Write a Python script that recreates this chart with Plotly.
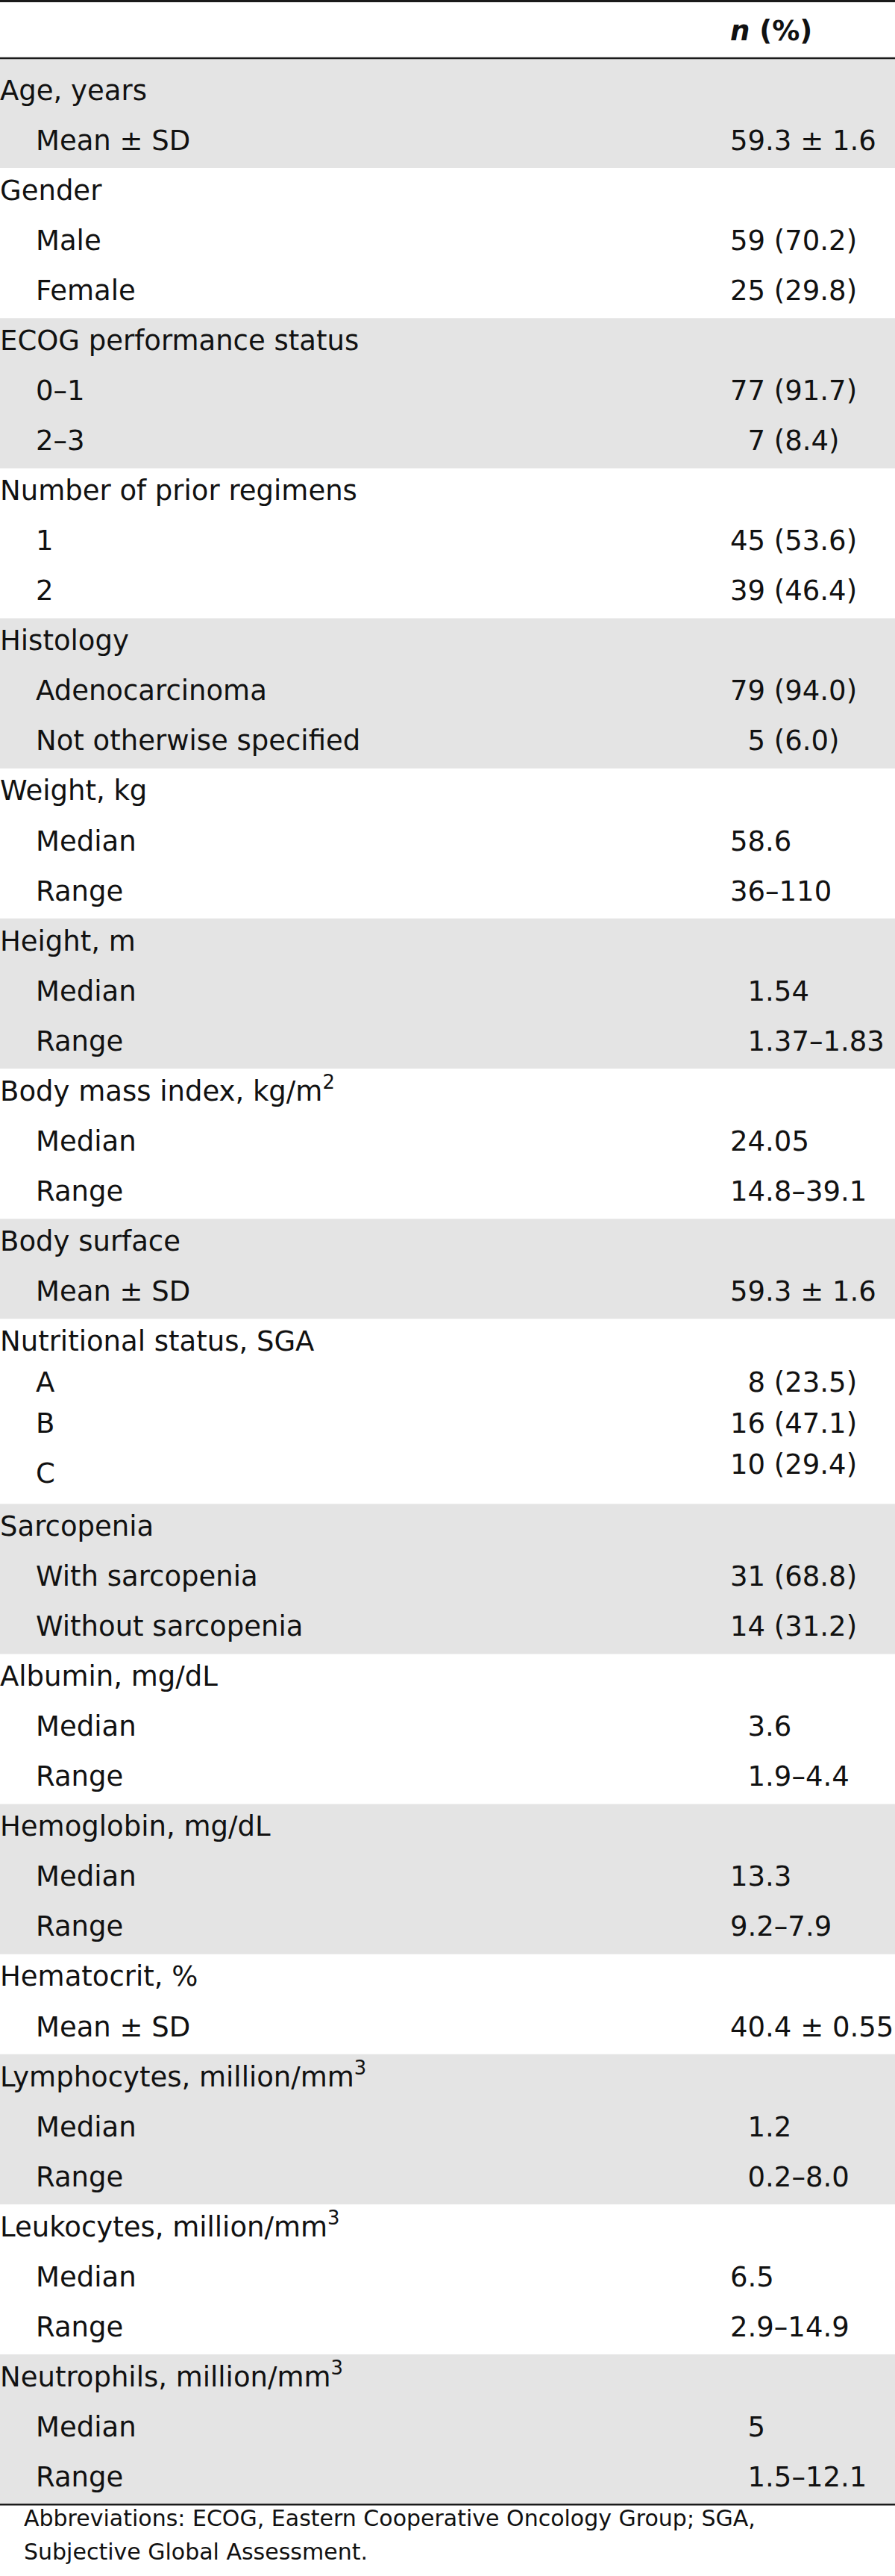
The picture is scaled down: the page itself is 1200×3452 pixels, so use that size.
import plotly.graph_objects as go

# ---------------- data ----------------
header_value = "<b><i>n</i> (%)</b>"

group_labels = [
    "Age, years",
    "Gender",
    "ECOG performance status",
    "Number of prior regimens",
    "Histology",
    "Weight, kg",
    "Height, m",
    "Body mass index, kg/m<sup>2</sup>",
    "Body surface",
    "Nutritional status, SGA",
    "Sarcopenia",
    "Albumin, mg/dL",
    "Hemoglobin, mg/dL",
    "Hematocrit, %",
    "Lymphocytes, million/mm<sup>3</sup>",
    "Leukocytes, million/mm<sup>3</sup>",
    "Neutrophils, million/mm<sup>3</sup>",
]

sub_labels = [
    ["Mean ± SD"],
    ["Male", "Female"],
    ["0–1", "2–3"],
    ["1", "2"],
    ["Adenocarcinoma", "Not otherwise specified"],
    ["Median", "Range"],
    ["Median", "Range"],
    ["Median", "Range"],
    ["Mean ± SD"],
    ["A", "B", "C"],
    ["With sarcopenia", "Without sarcopenia"],
    ["Median", "Range"],
    ["Median", "Range"],
    ["Mean ± SD"],
    ["Median", "Range"],
    ["Median", "Range"],
    ["Median", "Range"],
]

FS = "\u2007"  # figure space (digit-width alignment used in the source table)
values = [
    ["59.3 ± 1.6"],
    ["59 (70.2)", "25 (29.8)"],
    ["77 (91.7)", FS + "7 (8.4)"],
    ["45 (53.6)", "39 (46.4)"],
    ["79 (94.0)", FS + "5 (6.0)"],
    ["58.6", "36–110"],
    [FS + "1.54", FS + "1.37–1.83"],
    ["24.05", "14.8–39.1"],
    ["59.3 ± 1.6"],
    [FS + "8 (23.5)", "16 (47.1)", "10 (29.4)"],
    ["31 (68.8)", "14 (31.2)"],
    [FS + "3.6", FS + "1.9–4.4"],
    ["13.3", "9.2–7.9"],
    ["40.4 ± 0.55"],
    [FS + "1.2", FS + "0.2–8.0"],
    ["6.5", "2.9–14.9"],
    [FS + "5", FS + "1.5–12.1"],
]

footnote_lines = [
    "Abbreviations: ECOG, Eastern Cooperative Oncology Group; SGA,",
    "Subjective Global Assessment.",
]

# ---------------- layout constants ----------------
W, H = 1200, 3452
FONT = "DejaVu Sans"
SIZE = 37
FOOT_SIZE = 30
TXT = "#111111"
GRAY = "#e4e4e4"
LINE = "#1a1a1a"

PITCH = 67.05
TOP0 = 91.0
HEADER_LINE = 78.0
X_GROUP = 0
X_SUB = 48
X_VAL = 979
COMPACT = {"Nutritional status, SGA": (55.0, 248.0)}   # (sub-row pitch, group height)
LABEL_NUDGE = {("Nutritional status, SGA", 2): 12.0}

lab_x, lab_y, lab_t = [], [], []
val_x, val_y, val_t = [], [], []
shapes = []

y0 = TOP0
for gi, (g, subs, vals) in enumerate(zip(group_labels, sub_labels, values)):
    sub_pitch, gh = COMPACT.get(g, (PITCH, PITCH * (1 + len(subs))))
    yc = y0 + 33.5
    lab_x.append(X_GROUP); lab_y.append(yc); lab_t.append(g)
    for k, (s, v) in enumerate(zip(subs, vals)):
        ys = yc + (k + 1) * sub_pitch
        lab_x.append(X_SUB); lab_y.append(ys + LABEL_NUDGE.get((g, k), 0.0)); lab_t.append(s)
        val_x.append(X_VAL); val_y.append(ys); val_t.append(v)
    if gi % 2 == 0:
        top = HEADER_LINE if gi == 0 else y0
        shapes.append(dict(type="rect", xref="x", yref="y", x0=0, x1=W, y0=top, y1=y0 + gh,
                           fillcolor=GRAY, line=dict(width=0), layer="below"))
    y0 += gh

table_bottom = y0

# rules
for yy, wdt in [(1.5, 3), (HEADER_LINE, 2.5), (table_bottom, 2.5)]:
    shapes.append(dict(type="line", xref="x", yref="y", x0=0, x1=W, y0=yy, y1=yy,
                       line=dict(color=LINE, width=wdt)))

fig = go.Figure()
fig.add_trace(go.Scatter(x=lab_x, y=lab_y, text=lab_t, mode="text", textposition="middle right",
                         textfont=dict(family=FONT, size=SIZE, color=TXT), hoverinfo="skip",
                         showlegend=False, cliponaxis=False))
fig.add_trace(go.Scatter(x=val_x + [X_VAL], y=val_y + [45], text=val_t + [header_value], mode="text",
                         textposition="middle right",
                         textfont=dict(family=FONT, size=SIZE, color=TXT), hoverinfo="skip",
                         showlegend=False, cliponaxis=False))
fig.add_trace(go.Scatter(x=[32, 32], y=[table_bottom + 21, table_bottom + 66], text=footnote_lines,
                         mode="text", textposition="middle right",
                         textfont=dict(family=FONT, size=FOOT_SIZE, color=TXT), hoverinfo="skip",
                         showlegend=False, cliponaxis=False))

fig.update_layout(
    width=W, height=H, margin=dict(l=0, r=0, t=0, b=0),
    paper_bgcolor="white", plot_bgcolor="white",
    shapes=shapes, hovermode=False,
    xaxis=dict(range=[0, W], visible=False, fixedrange=True),
    yaxis=dict(range=[H, 0], visible=False, fixedrange=True),
)

fig.write_html("out.html", post_script="document.body.style.margin='0';",
               config={"displayModeBar": False})
